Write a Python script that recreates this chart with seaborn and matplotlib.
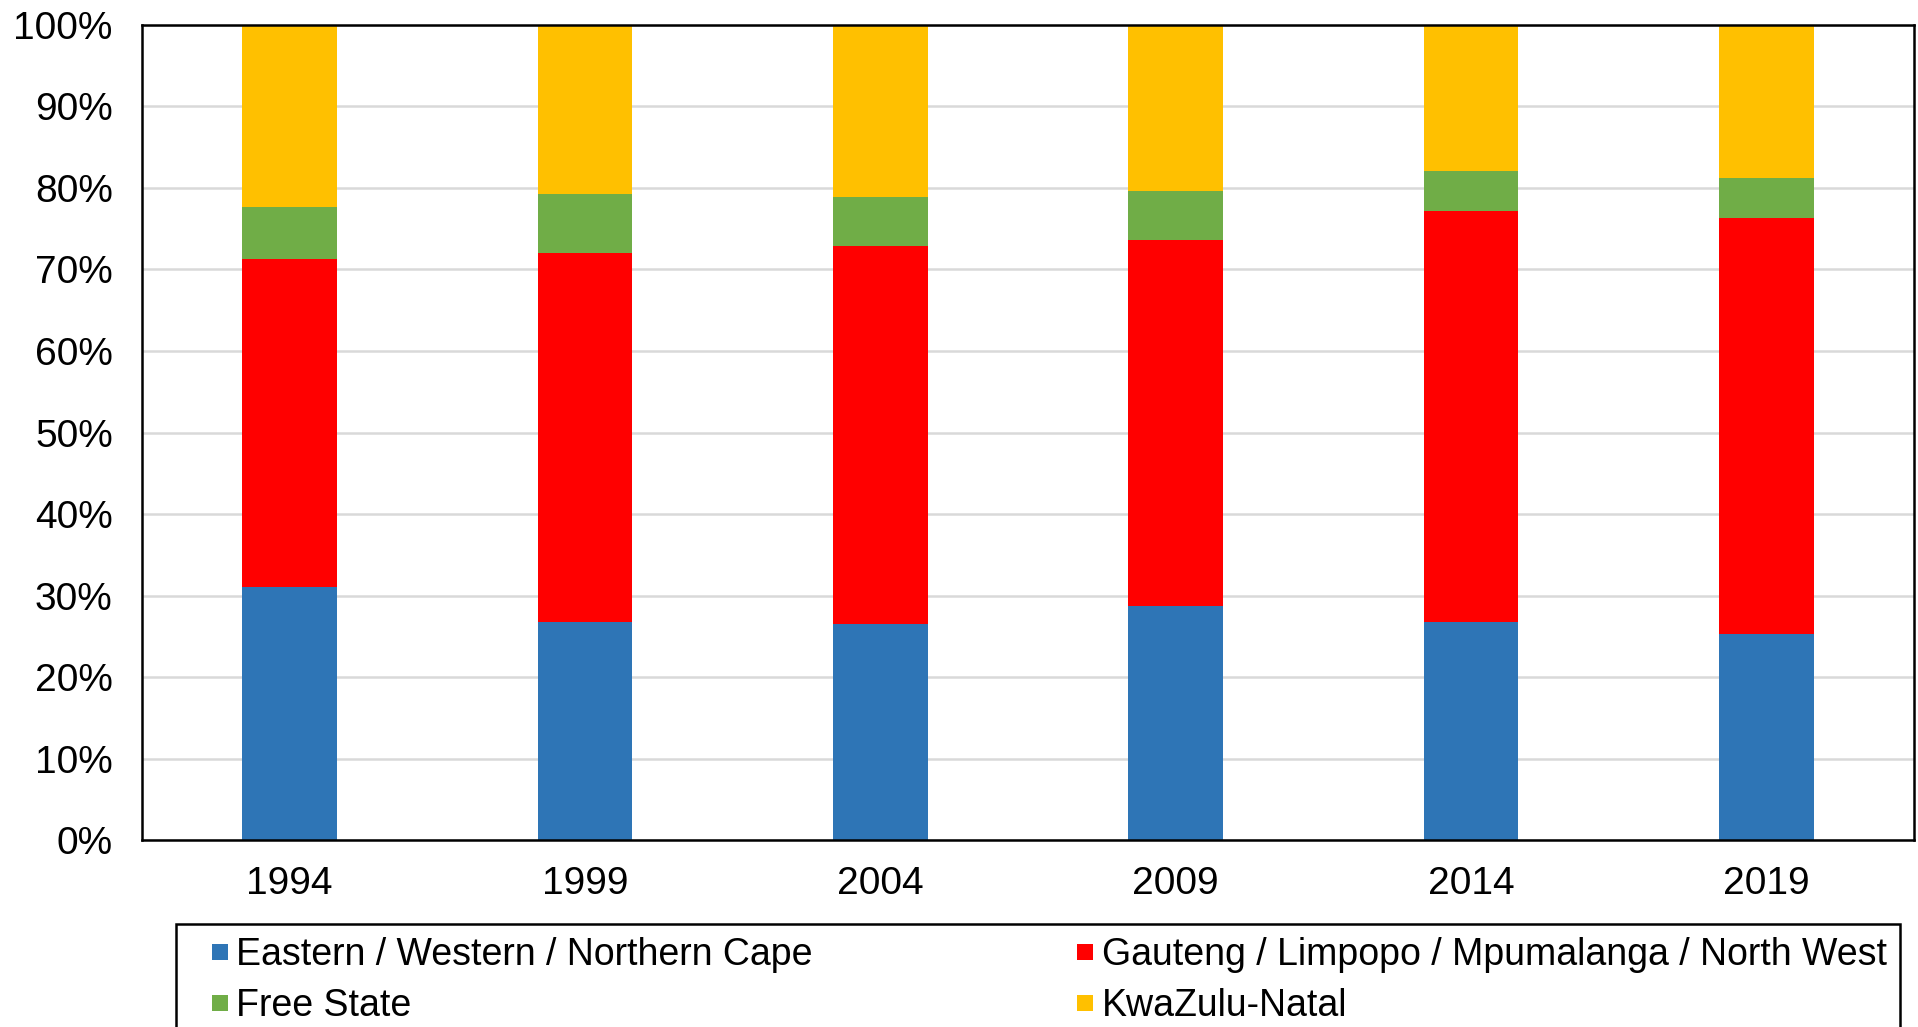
import pandas as pd
import matplotlib.pyplot as plt
from matplotlib.lines import Line2D
from matplotlib.ticker import FuncFormatter
import seaborn as sns

years = ["1994", "1999", "2004", "2009", "2014", "2019"]
cape = [31.0, 26.7, 26.5, 28.7, 26.8, 25.3]
gauteng = [40.3, 45.3, 46.4, 44.9, 50.4, 51.0]
free_state = [6.4, 7.3, 6.0, 6.0, 4.9, 4.9]
kzn = [22.3, 20.7, 21.1, 20.4, 17.9, 18.8]

names = ["Eastern / Western / Northern Cape",
         "Gauteng / Limpopo / Mpumalanga / North West",
         "Free State",
         "KwaZulu-Natal"]
colors = ["#2E75B6", "#FF0000", "#70AD47", "#FFC000"]

df = pd.DataFrame({"year": years, names[0]: cape, names[1]: gauteng,
                   names[2]: free_state, names[3]: kzn})
# cumulative tops so that each layer can be drawn over the next one
cum = df[names].cumsum(axis=1)
cum["year"] = df["year"]

sns.set_style("white")
plt.rcParams['font.family'] = ['Liberation Sans', 'DejaVu Sans']
plt.rcParams['text.color'] = 'black'
plt.rcParams['xtick.color'] = 'black'
plt.rcParams['ytick.color'] = 'black'

fig = plt.figure(figsize=(19.18, 10.27), dpi=100)
ax = fig.add_axes([0.074, 0.182, 0.924, 0.7937])

for i in range(len(names) - 1, -1, -1):
    sns.barplot(data=cum, x="year", y=names[i], color=colors[i], width=0.32,
                saturation=1, edgecolor="none", linewidth=0, ax=ax, zorder=2)

ax.set_ylim(0, 100)
ax.set_xlim(-0.5, 5.5)
ax.set_yticks(range(0, 101, 10))
ax.yaxis.set_major_formatter(FuncFormatter(lambda v, p: "%d%%" % v))
ax.yaxis.grid(True, color="#d9d9d9", linewidth=1.8, zorder=0)
ax.set_axisbelow(True)
ax.set_xlabel("")
ax.set_ylabel("")
ax.tick_params(axis="both", length=0, labelsize=28, labelcolor="black")
ax.tick_params(axis="y", pad=21)
ax.tick_params(axis="x", pad=19)
for s in ax.spines.values():
    s.set_visible(True)
    s.set_color("black")
    s.set_linewidth(1.8)

order = [0, 2, 1, 3]
handles = [Line2D([], [], marker="s", linestyle="none", markersize=12,
                  markerfacecolor=colors[i], markeredgewidth=0) for i in order]
labels = [names[i] for i in order]
leg = fig.legend(handles, labels, loc="lower left", bbox_to_anchor=(0.092, -0.01),
                 ncol=2, fontsize=27, frameon=True, fancybox=False,
                 edgecolor="black", framealpha=1, handlelength=1.6,
                 handletextpad=-0.35, columnspacing=6.45,
                 labelspacing=0.4, borderpad=0.35, borderaxespad=0)
leg.get_frame().set_linewidth(1.8)

plt.savefig("out.png", dpi=100)
plt.close()
